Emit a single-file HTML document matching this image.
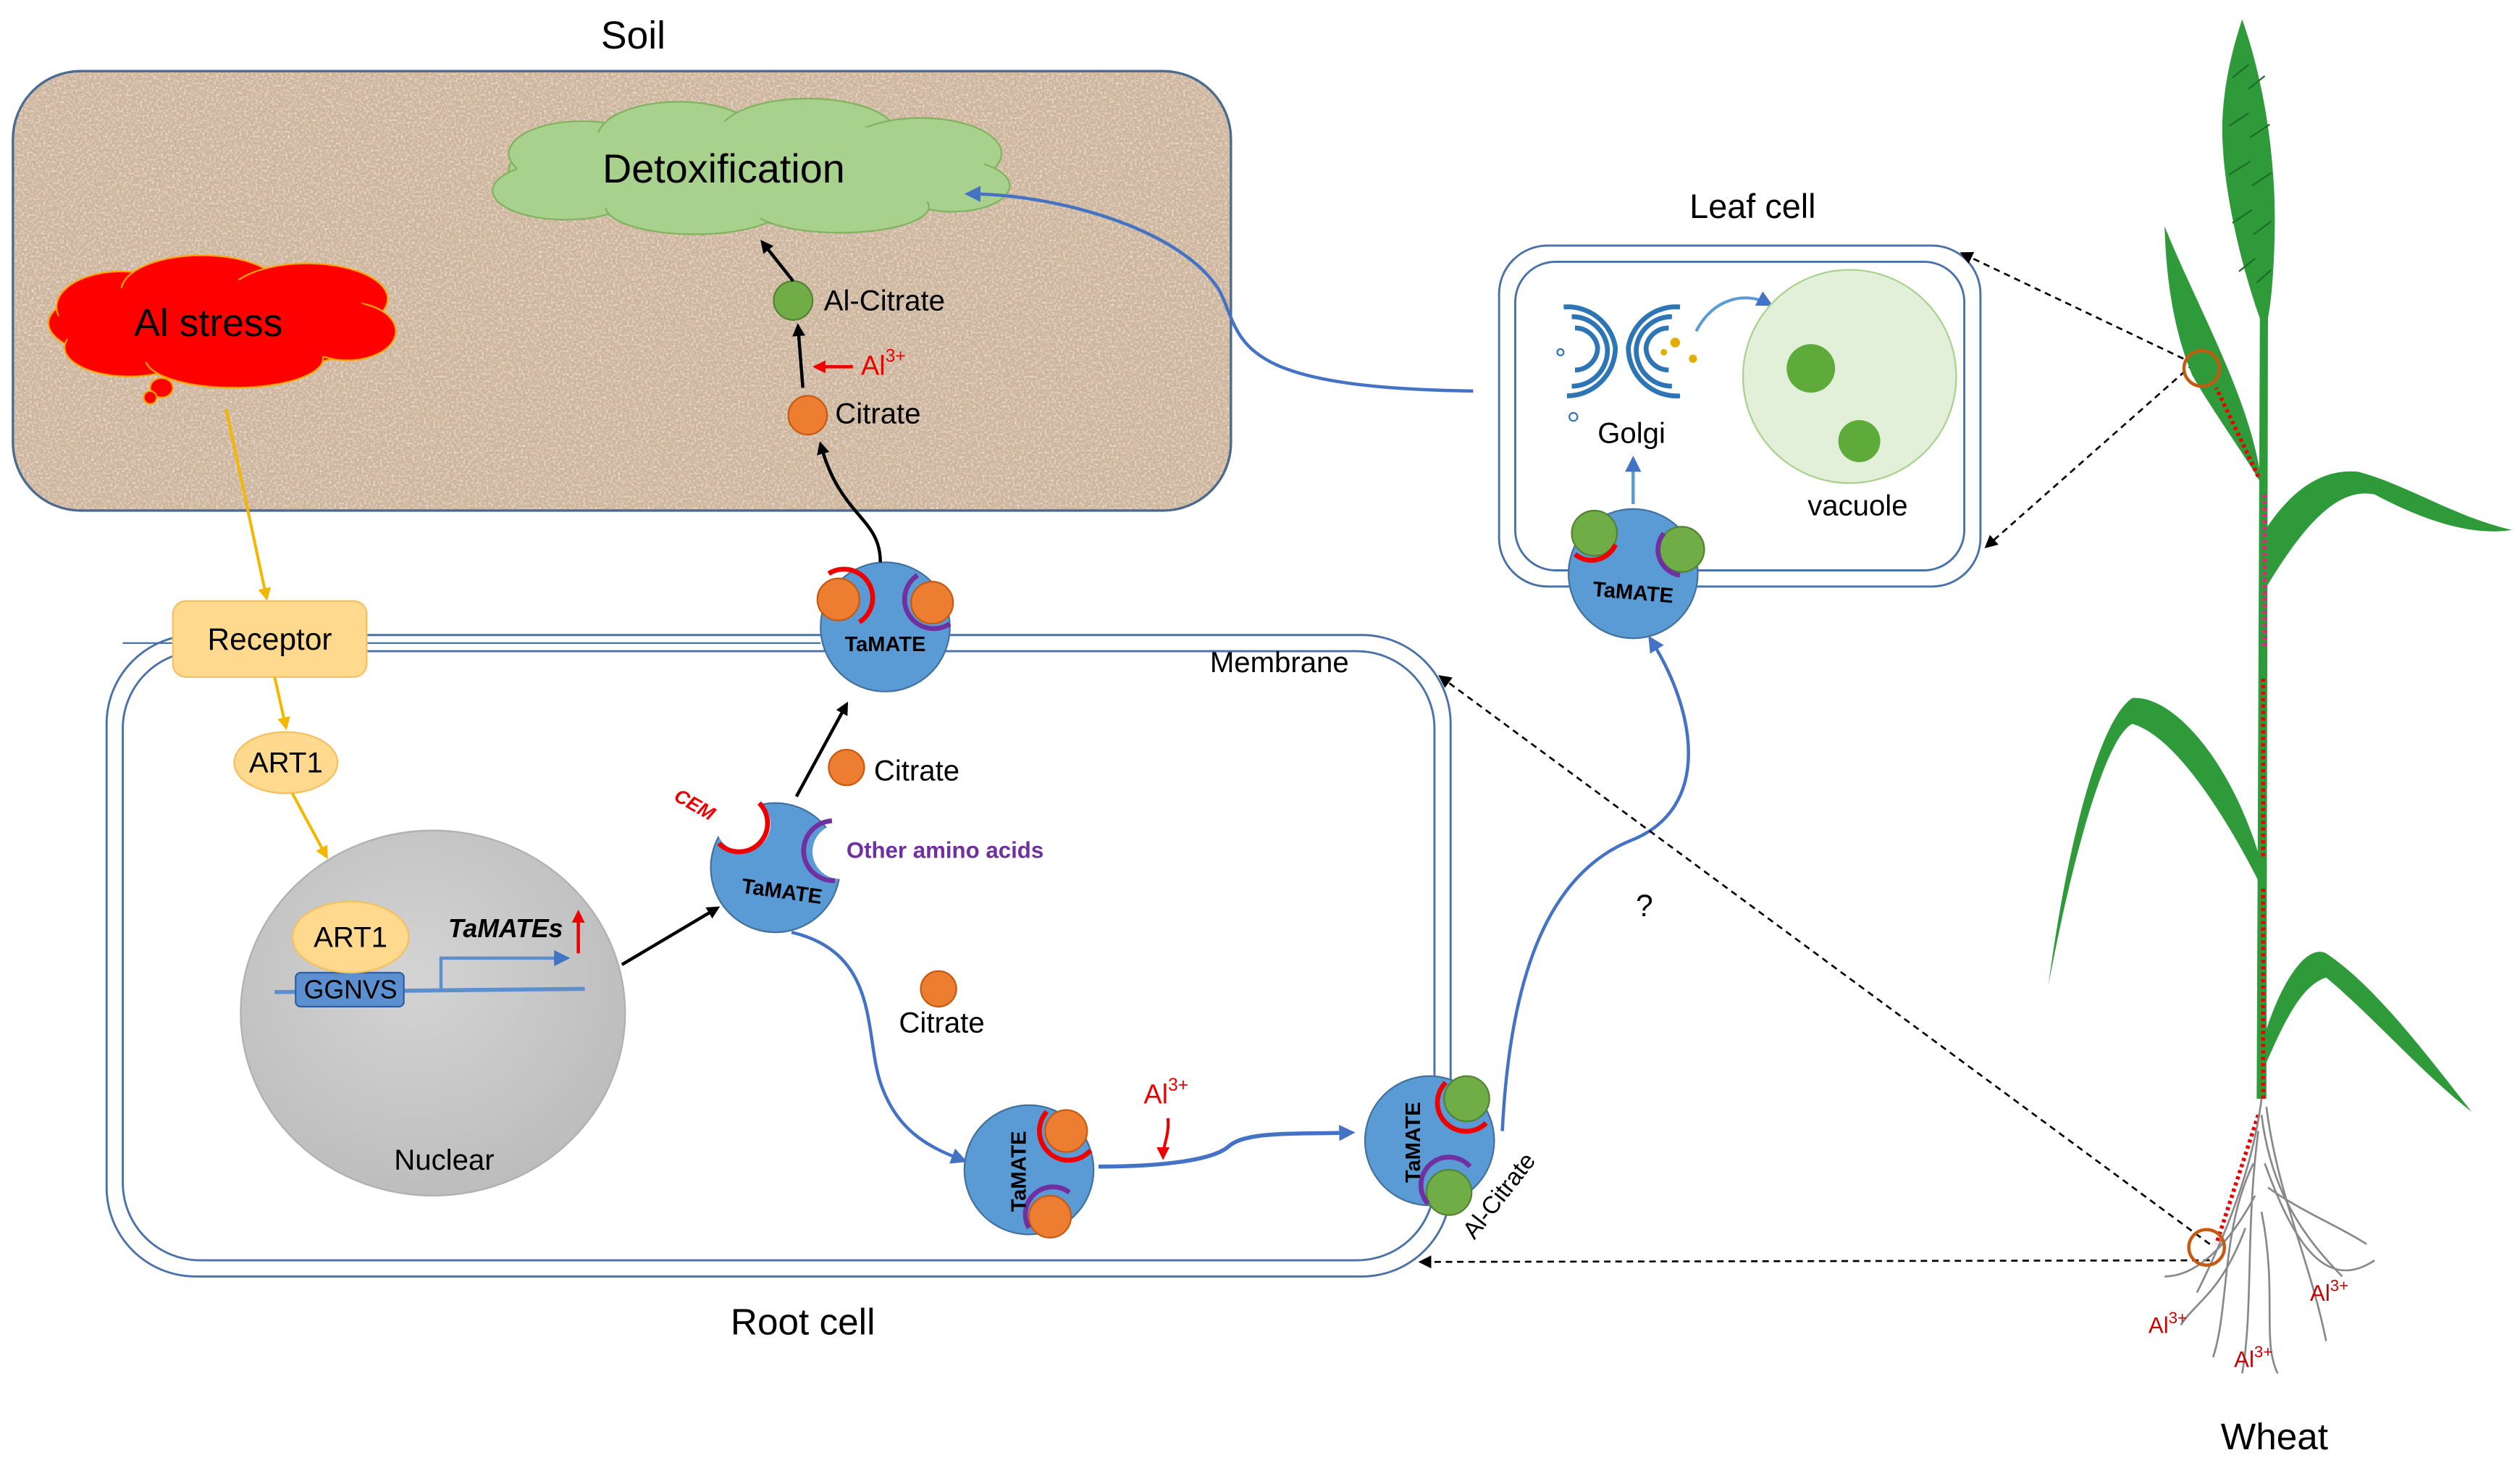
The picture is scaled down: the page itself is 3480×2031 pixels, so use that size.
<!DOCTYPE html>
<html><head><meta charset="utf-8"><style>
html,body{margin:0;padding:0;background:#fff}
svg{display:block}
text{font-family:"Liberation Sans","DejaVu Sans",sans-serif}
</style></head><body>
<svg width="3480" height="2031" viewBox="0 0 1560 910.4" preserveAspectRatio="none" xmlns="http://www.w3.org/2000/svg">
<defs>
<filter id="tex" x="0" y="0" width="100%" height="100%">
<feTurbulence type="fractalNoise" baseFrequency="0.7" numOctaves="2" seed="3" result="n"/>
<feColorMatrix in="n" type="matrix" values="0 0 0 0 0.95  0 0 0 0 0.90  0 0 0 0 0.84  0 0 0 1.6 -0.7"/>
<feComposite in2="SourceGraphic" operator="in"/>
</filter>
<radialGradient id="nuc" cx="0.45" cy="0.4" r="0.6"><stop offset="0" stop-color="#d4d4d4"/><stop offset="1" stop-color="#bdbdbd"/></radialGradient>
<marker id="ab" markerWidth="8" markerHeight="8" refX="6" refY="4" orient="auto" markerUnits="userSpaceOnUse"><path d="M0,0 L8,4 L0,8 z" fill="#000"/></marker>
<marker id="ay" markerWidth="8" markerHeight="8" refX="6" refY="4" orient="auto" markerUnits="userSpaceOnUse"><path d="M0,0 L8,4 L0,8 z" fill="#f2b800"/></marker>
<marker id="abl" markerWidth="10" markerHeight="10" refX="7" refY="5" orient="auto" markerUnits="userSpaceOnUse"><path d="M0,0 L10,5 L0,10 z" fill="#4472c4"/></marker>
<marker id="ar" markerWidth="8" markerHeight="8" refX="6" refY="4" orient="auto" markerUnits="userSpaceOnUse"><path d="M0,0 L8,4 L0,8 z" fill="#e00"/></marker>
</defs>

<!-- Soil -->
<text x="392" y="30" font-size="24" text-anchor="middle">Soil</text>
<rect x="8" y="44" width="754" height="272" rx="42" fill="#cdb59d"/>
<rect x="8" y="44" width="754" height="272" rx="42" fill="#fff" filter="url(#tex)"/>
<rect x="8" y="44" width="754" height="272" rx="42" fill="none" stroke="#4a6a90" stroke-width="1.5"/>

<!-- Detox cloud -->
<g fill="#a9d18e" stroke="#7fb35e" stroke-width="1">
<ellipse cx="465" cy="105" rx="150" ry="33"/>
<ellipse cx="360" cy="95" rx="45" ry="20"/><ellipse cx="420" cy="85" rx="50" ry="22"/><ellipse cx="500" cy="83" rx="55" ry="22"/>
<ellipse cx="570" cy="95" rx="50" ry="22"/><ellipse cx="590" cy="115" rx="35" ry="16"/><ellipse cx="350" cy="118" rx="45" ry="18"/>
<ellipse cx="430" cy="128" rx="55" ry="17"/><ellipse cx="520" cy="128" rx="55" ry="16"/>
</g>
<ellipse cx="465" cy="105" rx="145" ry="30" fill="#a9d18e"/>
<text x="448" y="113" font-size="25" text-anchor="middle">Detoxification</text>

<!-- Al stress cloud -->
<g fill="#f00" stroke="#ffa500" stroke-width="1">
<ellipse cx="135" cy="200" rx="105" ry="30"/><ellipse cx="75" cy="190" rx="40" ry="22"/><ellipse cx="125" cy="180" rx="50" ry="22"/>
<ellipse cx="190" cy="185" rx="50" ry="22"/><ellipse cx="215" cy="205" rx="30" ry="18"/><ellipse cx="80" cy="215" rx="40" ry="18"/>
<ellipse cx="145" cy="222" rx="55" ry="18"/>
</g>
<ellipse cx="135" cy="200" rx="100" ry="27" fill="#f00"/>
<ellipse cx="100" cy="240" rx="7" ry="6" fill="#f00" stroke="#ffa500"/><ellipse cx="93" cy="246" rx="4" ry="4" fill="#f00" stroke="#ffa500"/>
<text x="129" y="208" font-size="24" text-anchor="middle">Al stress</text>

<line x1="140" y1="253" x2="165" y2="370" stroke="#f2b800" stroke-width="1.8" marker-end="url(#ay)"/>

<!-- Root cell -->
<line x1="76" y1="398" x2="508" y2="398" stroke="#4a72a8" stroke-width="1"/>
<rect x="66" y="393" width="832" height="397" rx="55" fill="none" stroke="#4a72a8" stroke-width="1.3"/>
<rect x="76" y="403" width="812" height="377" rx="48" fill="none" stroke="#4a72a8" stroke-width="1.3"/>
<text x="792" y="416" font-size="18" text-anchor="middle">Membrane</text>
<text x="497" y="826" font-size="23" text-anchor="middle">Root cell</text>

<rect x="107" y="372" width="120" height="47" rx="8" fill="#ffd98e" stroke="#f5c060"/>
<text x="167" y="402" font-size="19" text-anchor="middle">Receptor</text>
<line x1="170" y1="419" x2="177" y2="450" stroke="#f2b800" stroke-width="1.8" marker-end="url(#ay)"/>
<ellipse cx="177" cy="472" rx="32" ry="19" fill="#ffd98e" stroke="#f5c060"/>
<text x="177" y="478" font-size="18" text-anchor="middle">ART1</text>
<line x1="181" y1="491" x2="202" y2="530" stroke="#f2b800" stroke-width="1.8" marker-end="url(#ay)"/>

<!-- Nucleus -->
<ellipse cx="268" cy="627" rx="119" ry="113" fill="url(#nuc)" stroke="#b0b0b0"/>
<text x="275" y="724" font-size="18" text-anchor="middle">Nuclear</text>
<line x1="170" y1="614" x2="362" y2="612" stroke="#5b8fd0" stroke-width="2.5"/>
<rect x="183" y="602" width="67" height="21" rx="3" fill="#5b8fd0" stroke="#2f5f9f"/>
<text x="217" y="618" font-size="16" text-anchor="middle">GGNVS</text>
<ellipse cx="217" cy="580" rx="36" ry="22" fill="#ffd98e" stroke="#f5c060"/>
<text x="217" y="586" font-size="18" text-anchor="middle">ART1</text>
<path d="M273,613 V593 H350" fill="none" stroke="#5b8fd0" stroke-width="2" marker-end="url(#abl)"/>
<text x="313" y="580" font-size="16" font-weight="bold" font-style="italic" text-anchor="middle">TaMATEs</text>
<line x1="358" y1="590" x2="358" y2="565" stroke="#e00" stroke-width="2" marker-end="url(#ar)"/>
<line x1="385" y1="597" x2="444" y2="562" stroke="#000" stroke-width="2" marker-end="url(#ab)"/>

<!-- TaMATE center -->
<circle cx="480" cy="537" r="40" fill="#5b9bd5" stroke="#41719c"/>
<circle cx="460" cy="510" r="17" fill="#fff"/><path d="M445,522 A17,17 0 0 0 470,497" fill="none" stroke="#e00" stroke-width="3"/>
<circle cx="520" cy="527" r="17" fill="#fff"/><path d="M515,508 A17,17 0 0 0 517,545" fill="none" stroke="#7030a0" stroke-width="3"/>
<text x="484" y="556" font-size="13" font-weight="bold" text-anchor="middle" transform="rotate(8 484 552)">TaMATE</text>
<text x="430" y="502" font-size="12" font-weight="bold" font-style="italic" fill="#e00" text-anchor="middle" transform="rotate(30 430 498)">CEM</text>
<text x="585" y="531" font-size="14" font-weight="bold" fill="#7030a0" text-anchor="middle">Other  amino acids</text>

<line x1="493" y1="493" x2="524" y2="436" stroke="#000" stroke-width="2" marker-end="url(#ab)"/>
<circle cx="524" cy="475" r="11" fill="#ed7d31" stroke="#c55a11"/>
<text x="541" y="483" font-size="18">Citrate</text>

<!-- top TaMATE -->
<circle cx="548" cy="388" r="40" fill="#5b9bd5" stroke="#41719c"/>
<circle cx="519" cy="371" r="13" fill="#ed7d31" stroke="#c55a11"/><path d="M513,355 A16,16 0 0 1 532,385" fill="none" stroke="#e00" stroke-width="3"/>
<circle cx="577" cy="373" r="13" fill="#ed7d31" stroke="#c55a11"/><path d="M568,356 A16,16 0 0 0 588,386" fill="none" stroke="#7030a0" stroke-width="3"/>
<text x="548" y="403" font-size="13" font-weight="bold" text-anchor="middle">TaMATE</text>

<path d="M545,348 C545,320 520,320 508,275" fill="none" stroke="#000" stroke-width="2" marker-end="url(#ab)"/>
<circle cx="500" cy="257" r="12" fill="#ed7d31" stroke="#c55a11"/>
<text x="517" y="262" font-size="18">Citrate</text>
<line x1="497" y1="240" x2="494" y2="202" stroke="#000" stroke-width="2" marker-end="url(#ab)"/>
<line x1="528" y1="227" x2="505" y2="227" stroke="#e00" stroke-width="2" marker-end="url(#ar)"/>
<text x="533" y="232" font-size="17" fill="#e00">Al<tspan font-size="11" dy="-8">3+</tspan></text>
<circle cx="491" cy="186" r="12" fill="#70ad47" stroke="#548235"/>
<text x="510" y="192" font-size="18">Al-Citrate</text>
<line x1="491" y1="174" x2="472" y2="150" stroke="#000" stroke-width="2" marker-end="url(#ab)"/>

<!-- blue curves -->
<path d="M912,242 C760,240 770,210 755,180 C730,140 650,120 600,120" fill="none" stroke="#4472c4" stroke-width="2" marker-end="url(#abl)"/>
<path d="M490,577 C545,590 535,640 545,670 C555,700 575,710 596,718" fill="none" stroke="#4472c4" stroke-width="2" marker-end="url(#abl)"/>
<circle cx="581" cy="612" r="11" fill="#ed7d31" stroke="#c55a11"/>
<text x="583" y="639" font-size="18" text-anchor="middle">Citrate</text>

<!-- TaMATE bottom 1 -->
<circle cx="637" cy="724" r="40" fill="#5b9bd5" stroke="#41719c"/>
<circle cx="660" cy="700" r="13" fill="#ed7d31" stroke="#c55a11"/><path d="M648,688 A17,17 0 0 0 675,712" fill="none" stroke="#e00" stroke-width="3"/>
<circle cx="650" cy="753" r="13" fill="#ed7d31" stroke="#c55a11"/><path d="M637,760 A17,17 0 0 1 662,738" fill="none" stroke="#7030a0" stroke-width="3"/>
<text x="630" y="730" font-size="13" font-weight="bold" text-anchor="middle" transform="rotate(-90 630 725)">TaMATE</text>
<path d="M680,722 C720,722 750,718 760,710 C770,700 800,702 836,701" fill="none" stroke="#4472c4" stroke-width="2.5" marker-end="url(#abl)"/>
<text x="708" y="683" font-size="17" fill="#e00">Al<tspan font-size="11" dy="-8">3+</tspan></text>
<path d="M723,692 C724,703 720,708 720,716" fill="none" stroke="#e00" stroke-width="1.8" marker-end="url(#ar)"/>

<!-- TaMATE bottom 2 -->
<circle cx="885" cy="706" r="40" fill="#5b9bd5" stroke="#41719c"/>
<circle cx="908" cy="680" r="14" fill="#70ad47" stroke="#548235"/><path d="M895,670 A17,17 0 0 0 920,695" fill="none" stroke="#e00" stroke-width="3"/>
<circle cx="897" cy="738" r="14" fill="#70ad47" stroke="#548235"/><path d="M884,745 A17,17 0 0 1 910,722" fill="none" stroke="#7030a0" stroke-width="3"/>
<text x="874" y="712" font-size="13" font-weight="bold" text-anchor="middle" transform="rotate(-90 874 707)">TaMATE</text>
<text x="928" y="745" font-size="15" text-anchor="middle" transform="rotate(-52 928 740)">Al-Citrate</text>
<path d="M930,700 C935,600 960,540 1010,520 C1060,500 1050,440 1022,396" fill="none" stroke="#4472c4" stroke-width="2" marker-end="url(#abl)"/>
<text x="1018" y="567" font-size="19" text-anchor="middle">?</text>

<!-- Leaf cell -->
<text x="1085" y="135" font-size="21" text-anchor="middle">Leaf cell</text>
<rect x="928" y="152" width="298" height="211" rx="30" fill="#fff" stroke="#4a72a8" stroke-width="1.3"/>
<rect x="938" y="162" width="278" height="191" rx="25" fill="none" stroke="#4a72a8" stroke-width="1.3"/>
<g fill="none" stroke="#2e75b6" stroke-width="3">
<path d="M968,190 A30,30 0 0 1 1000,215 A30,30 0 0 1 970,245"/>
<path d="M973,196 A22,22 0 0 1 995,215 A22,22 0 0 1 973,239"/>
<path d="M975,203 A14,14 0 0 1 989,215 A14,14 0 0 1 975,229"/>
<path d="M1040,190 A30,30 0 0 0 1008,215 A30,30 0 0 0 1040,245"/>
<path d="M1035,196 A22,22 0 0 0 1013,215 A22,22 0 0 0 1035,239"/>
<path d="M1033,203 A14,14 0 0 0 1019,215 A14,14 0 0 0 1033,229"/>
</g>
<circle cx="1037" cy="212" r="3" fill="#e0b000"/><circle cx="1048" cy="222" r="2.5" fill="#e0b000"/><circle cx="1030" cy="218" r="2" fill="#e0b000"/>
<circle cx="966" cy="218" r="2" fill="none" stroke="#2e75b6"/><circle cx="974" cy="258" r="2.5" fill="none" stroke="#2e75b6"/>
<path d="M1050,205 C1060,185 1080,180 1095,188" fill="none" stroke="#5b9bd5" stroke-width="1.8" marker-end="url(#abl)"/>
<text x="1010" y="274" font-size="18" text-anchor="middle">Golgi</text>
<circle cx="1145" cy="233" r="66" fill="#e2f0d9" stroke="#a9d18e"/>
<circle cx="1121" cy="228" r="15" fill="#5eaa3a"/><circle cx="1151" cy="273" r="13" fill="#5eaa3a"/>
<text x="1150" y="319" font-size="18" text-anchor="middle">vacuole</text>
<line x1="1011" y1="312" x2="1011" y2="285" stroke="#5b9bd5" stroke-width="2" marker-end="url(#abl)"/>
<circle cx="1011" cy="355" r="40" fill="#5b9bd5" stroke="#41719c"/>
<circle cx="987" cy="330" r="14" fill="#70ad47" stroke="#548235"/><path d="M975,343 A16,16 0 0 0 1000,337" fill="none" stroke="#e00" stroke-width="3"/>
<circle cx="1041" cy="340" r="14" fill="#70ad47" stroke="#548235"/><path d="M1030,330 A16,16 0 0 0 1040,356" fill="none" stroke="#7030a0" stroke-width="3"/>
<text x="1011" y="371" font-size="13" font-weight="bold" text-anchor="middle" transform="rotate(5 1011 366)">TaMATE</text>

<!-- dashed -->
<g stroke="#000" stroke-width="1.2" stroke-dasharray="4,3" fill="none">
<line x1="1358" y1="225" x2="1215" y2="157" marker-end="url(#ab)"/>
<line x1="1358" y1="225" x2="1230" y2="338" marker-end="url(#ab)"/>
<line x1="1368" y1="770" x2="892" y2="419" marker-end="url(#ab)"/>
<line x1="1368" y1="780" x2="880" y2="781" marker-end="url(#ab)"/>
</g>

<!-- wheat -->
<g fill="#2e9a3a">
<path d="M1399,190 L1404,190 L1403,680 L1397,680 z"/>
<path d="M1388,12 C1398,40 1410,90 1408,150 C1407,180 1405,195 1402,205 C1392,180 1378,130 1376,90 C1374,60 1382,30 1388,12 z"/>
<path d="M1340,140 C1360,190 1395,250 1400,300 C1392,285 1370,255 1357,232 C1346,205 1341,175 1340,140 z"/>
<path d="M1401,330 C1420,300 1440,290 1460,292 C1490,300 1520,320 1555,328 C1530,332 1500,322 1470,306 C1450,302 1430,318 1402,365 z"/>
<path d="M1398,528 C1380,470 1345,430 1320,432 C1300,445 1280,520 1268,610 C1285,520 1305,455 1320,448 C1345,455 1375,500 1398,545 z"/>
<path d="M1402,640 C1415,600 1430,585 1440,590 C1470,610 1500,650 1530,688 C1500,665 1470,630 1440,605 C1425,610 1415,630 1402,660 z"/>
</g>
<g stroke="#1d6b28" stroke-width="1" fill="none">
<path d="M1392,40 l-10,8 M1392,55 l10,-8 M1392,70 l-12,8 M1393,85 l12,-8 M1393,100 l-13,8 M1394,115 l12,-8 M1394,130 l-12,8 M1395,145 l11,-8 M1396,160 l-10,8 M1397,175 l9,-8"/>
</g>
<g stroke="#e00" stroke-width="2.5" stroke-dasharray="2,2" fill="none">
<line x1="1401" y1="680" x2="1401" y2="550"/><line x1="1401" y1="530" x2="1401" y2="420"/>
<line x1="1398" y1="295" x2="1372" y2="240"/><line x1="1398" y1="690" x2="1372" y2="770"/>
</g>
<line x1="1402" y1="400" x2="1402" y2="305" stroke="#e8207e" stroke-width="2.5" stroke-dasharray="2,2"/>
<g fill="none" stroke="#888" stroke-width="1.2">
<path d="M1400,680 C1395,720 1380,760 1360,800"/><path d="M1400,690 C1405,730 1420,760 1450,790"/>
<path d="M1398,700 C1390,760 1395,810 1388,850"/><path d="M1402,720 C1420,770 1440,800 1470,780"/>
<path d="M1396,740 C1380,770 1360,790 1340,790"/><path d="M1400,750 C1410,800 1400,830 1410,850"/>
<path d="M1403,685 C1410,740 1430,780 1440,830"/><path d="M1395,720 C1375,760 1380,810 1370,840"/>
<path d="M1404,735 C1425,750 1450,760 1465,770"/><path d="M1390,760 C1375,800 1360,805 1350,820"/>
</g>
<circle cx="1363" cy="228" r="11" fill="none" stroke="#c55a11" stroke-width="2"/>
<circle cx="1366" cy="772" r="11" fill="none" stroke="#c55a11" stroke-width="2"/>
<text x="1330" y="825" font-size="14" fill="#c00">Al<tspan font-size="10" dy="-6">3+</tspan></text>
<text x="1383" y="846" font-size="14" fill="#c00">Al<tspan font-size="10" dy="-6">3+</tspan></text>
<text x="1430" y="805" font-size="14" fill="#c00">Al<tspan font-size="10" dy="-6">3+</tspan></text>
<text x="1408" y="897" font-size="23" text-anchor="middle">Wheat</text>
</svg>
</body></html>
